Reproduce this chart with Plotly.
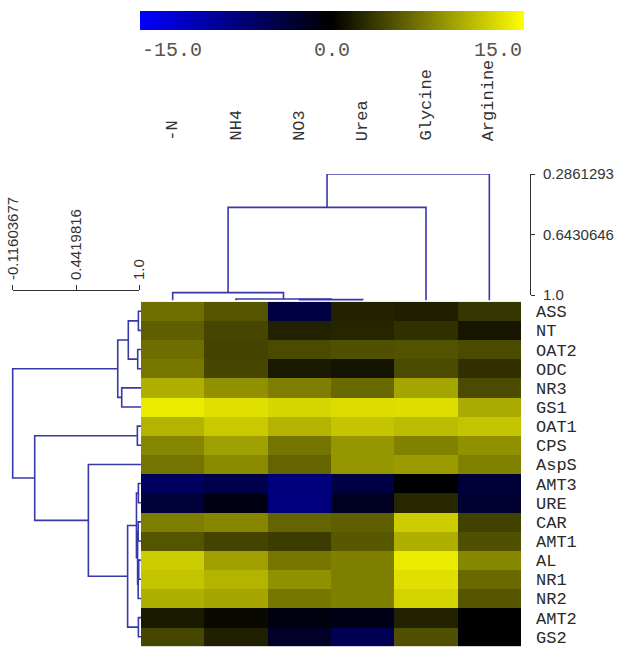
import plotly.graph_objects as go

# ---------------------------------------------------------------- data
genes = ["ASS", "NT", "OAT2", "ODC", "NR3", "GS1", "OAT1", "CPS", "AspS",
         "AMT3", "URE", "CAR", "AMT1", "AL", "NR1", "NR2", "AMT2", "GS2"]
conditions = ["-N", "NH4", "NO3", "Urea", "Glycine", "Arginine"]

# expression values per condition, one entry per gene (same order as genes)
minus_n  = [6.5, 5.6, 6.4, 7.0, 10.3, 13.8, 10.6, 7.9, 6.8, -5.6, -3.5, 7.4, 5.0, 12.0, 11.5, 10.3, 1.5, 4.1]
nh4      = [5.0, 4.1, 4.0, 4.1, 8.5, 13.2, 11.8, 9.4, 8.2, -4.4, -1.2, 7.9, 4.0, 9.4, 10.6, 9.7, 0.5, 1.9]
no3      = [-4.0, 2.0, 4.4, 1.5, 7.4, 12.6, 10.5, 6.8, 5.9, -7.2, -7.4, 5.9, 3.5, 7.0, 8.5, 7.0, -0.9, -2.4]
urea     = [2.0, 2.2, 4.7, 1.2, 6.2, 12.9, 11.5, 8.8, 8.8, -4.0, -2.0, 5.6, 5.2, 7.5, 7.4, 7.5, -1.5, -5.0]
glycine  = [1.8, 2.9, 4.8, 4.4, 9.7, 13.0, 11.0, 7.6, 9.1, 0.0, 2.3, 12.0, 10.3, 13.8, 13.2, 12.4, 2.0, 4.7]
arginine = [3.2, 1.3, 4.4, 2.9, 4.4, 10.0, 11.5, 8.5, 7.6, -3.3, -2.9, 3.8, 4.7, 7.9, 6.2, 5.0, 0.0, 0.0]

# hierarchical clustering of genes: (left, right, similarity)
# strings are leaves, integers refer to earlier merges in the list
gene_links = [
    ("ASS", "NT", 0.992),      # 0
    ("OAT2", "ODC", 0.986),    # 1
    (0, 1, 0.903),             # 2
    ("NR3", "GS1", 0.845),     # 3
    (2, 3, 0.810),             # 4
    ("OAT1", "CPS", 0.983),    # 5
    ("AMT3", "URE", 0.992),    # 6
    ("CAR", "AMT1", 0.990),    # 7
    ("AL", "NR1", 0.995),      # 8
    (8, "NR2", 0.990),         # 9
    (7, 9, 0.985),             # 10
    (6, 10, 0.975),            # 11
    ("AMT2", "GS2", 0.992),    # 12
    (11, 12, 0.897),           # 13
    ("AspS", 13, 0.551),       # 14
    (5, 14, 0.078),            # 15
    (4, 15, -0.11603677),      # 16
]

# hierarchical clustering of conditions
condition_links = [
    ("NO3", "Urea", 1.027),      # 0
    ("NH4", 0, 1.024),           # 1
    ("-N", 1, 0.986),            # 2
    (2, "Glycine", 0.483),       # 3
    (3, "Arginine", 0.2861293),  # 4
]

gene_scale_ticks = [-0.11603677, 0.4419816, 1.0]
condition_scale_ticks = [0.2861293, 0.6430646, 1.0]
colorbar_labels = ["-15.0", "0.0", "15.0"]

# ---------------------------------------------------------------- helpers
W, H = 622, 650


def px_x(p):
    return p / W


def px_y(p):
    return 1 - p / H


def dendrogram_path(links, leaves, base):
    """Elbow connector path (leaf position, similarity) for every merge."""
    index = {name: i for i, name in enumerate(leaves)}
    nodes = []

    def locate(ref):
        if isinstance(ref, str):
            return index[ref], base
        return nodes[ref]

    pos, sim = [], []
    for a, b, h in links:
        pa, ha = locate(a)
        pb, hb = locate(b)
        pos += [pa, pa, pb, pb, None]
        sim += [ha, h, h, hb, None]
        nodes.append(((pa + pb) / 2, h))
    return pos, sim


# ---------------------------------------------------------------- geometry
heat_x0, heat_x1 = 141, 521
heat_y0, heat_y1 = 301.7, 646.3

# condition dendrogram: similarity scale from 0.2861293 (y=174) to 1.0 (y=295)
top_px0, top_px1 = 174, 295
top_k = (top_px1 - top_px0) / (1.0 - condition_scale_ticks[0])
top_base = 1.0 + (heat_y0 - 1.5 - top_px1) / top_k

# gene dendrogram: scale from -0.116 (x=12.7) to 1.0 (x=139.3)
left_px0, left_px1 = 12.7, 139.3
left_k = (left_px1 - left_px0) / (1.0 - gene_scale_ticks[0])
left_dom0 = 5
left_lo = gene_scale_ticks[0] - (left_px0 - left_dom0) / left_k
left_base = 1.0 + (heat_x0 - left_px1) / left_k

LINE = "#3838a8"
AXIS = "#333333"
MONO = "Liberation Mono, Courier New, monospace"
SANS = "Liberation Sans, Arial, sans-serif"

z = [list(r) for r in zip(minus_n, nh4, no3, urea, glycine, arginine)]

fig = go.Figure()

fig.add_trace(go.Heatmap(
    z=z, x=list(range(len(conditions))), y=list(range(len(genes))),
    zmin=-15, zmax=15,
    colorscale=[[0.0, "rgb(0,0,255)"], [0.5, "rgb(0,0,0)"], [1.0, "rgb(255,255,0)"]],
    colorbar=dict(orientation="h", x=(140 + 524) / 2 / W, xanchor="center",
                  y=px_y(11), yanchor="top", len=384 / W, lenmode="fraction",
                  thickness=19, thicknessmode="pixels", outlinewidth=0,
                  showticklabels=False, ticks="", xpad=0, ypad=0),
    xaxis="x", yaxis="y", hoverinfo="skip",
))

cpos, csim = dendrogram_path(condition_links, conditions, top_base)
fig.add_trace(go.Scatter(x=cpos, y=csim, mode="lines",
                         line=dict(color=LINE, width=1.6),
                         xaxis="x", yaxis="y2", hoverinfo="skip"))

gpos, gsim = dendrogram_path(gene_links, genes, left_base)
fig.add_trace(go.Scatter(x=gsim, y=gpos, mode="lines",
                         line=dict(color=LINE, width=1.6),
                         xaxis="x2", yaxis="y", hoverinfo="skip"))

# invisible anchors so the two scale axes are drawn
fig.add_trace(go.Scatter(x=[0.5], y=[0], mode="markers", marker=dict(opacity=0),
                         xaxis="x3", yaxis="y", hoverinfo="skip"))
fig.add_trace(go.Scatter(x=[0], y=[0.5], mode="markers", marker=dict(opacity=0),
                         xaxis="x", yaxis="y3", hoverinfo="skip"))

hidden = dict(showgrid=False, zeroline=False, showticklabels=False, ticks="",
              showline=False)

fig.update_layout(
    width=W, height=H,
    margin=dict(l=0, r=0, t=0, b=0, autoexpand=False),
    paper_bgcolor="white", plot_bgcolor="rgba(0,0,0,0)",
    showlegend=False,
    xaxis=dict(domain=[px_x(heat_x0), px_x(heat_x1)], range=[-0.5, 5.5],
               anchor="y", **hidden),
    yaxis=dict(domain=[px_y(heat_y1), px_y(heat_y0)], range=[17.5, -0.5],
               anchor="x", side="right", showgrid=False, zeroline=False,
               showline=False, ticks="", tickvals=list(range(len(genes))),
               ticktext=genes, ticklabelstandoff=14,
               tickfont=dict(family=MONO, size=17, color="#2a2a2a")),
    yaxis2=dict(domain=[px_y(heat_y0), px_y(top_px0)],
                range=[1.0 + (heat_y0 - top_px1) / top_k, condition_scale_ticks[0]],
                anchor="x", **hidden),
    xaxis2=dict(domain=[px_x(left_dom0), px_x(heat_x0)],
                range=[left_lo, 1.0 + (heat_x0 - left_px1) / left_k],
                anchor="y", **hidden),
    xaxis3=dict(domain=[px_x(left_px0), px_x(left_px1)],
                range=[gene_scale_ticks[0], 1.0],
                anchor="free", position=px_y(290), side="top",
                showgrid=False, zeroline=False, showline=True,
                linecolor=AXIS, linewidth=1,
                ticks="outside", ticklen=5, tickcolor=AXIS, tickwidth=1,
                tickvals=gene_scale_ticks,
                ticktext=[str(v) for v in gene_scale_ticks],
                tickangle=-90, ticklabelstandoff=2,
                tickfont=dict(family=SANS, size=15, color="#333")),
    yaxis3=dict(domain=[px_y(top_px1), px_y(top_px0)],
                range=[1.0, condition_scale_ticks[0]],
                anchor="free", position=px_x(530), side="right",
                showgrid=False, zeroline=False, showline=True,
                linecolor=AXIS, linewidth=1,
                ticks="outside", ticklen=4, tickcolor=AXIS, tickwidth=1,
                tickvals=condition_scale_ticks,
                ticktext=[str(v) for v in condition_scale_ticks],
                ticklabelstandoff=5,
                tickfont=dict(family=SANS, size=15, color="#333")),
)

# condition names above the condition dendrogram
for i, name in enumerate(conditions):
    fig.add_annotation(x=i, xref="x", y=px_y(143), yref="paper",
                       text=name, textangle=-90, showarrow=False,
                       xanchor="center", yanchor="bottom",
                       font=dict(family=MONO, size=17, color="#333"))

# colour bar labels: left end, centre, right end
for text, xp, anchor in zip(colorbar_labels, [140, 332, 524], ["left", "center", "right"]):
    fig.add_annotation(x=px_x(xp), xref="paper", y=px_y(37), yref="paper",
                       text=text, showarrow=False, xanchor=anchor, yanchor="top",
                       font=dict(family=MONO, size=20, color="#555"))

fig.write_html("out.html")
